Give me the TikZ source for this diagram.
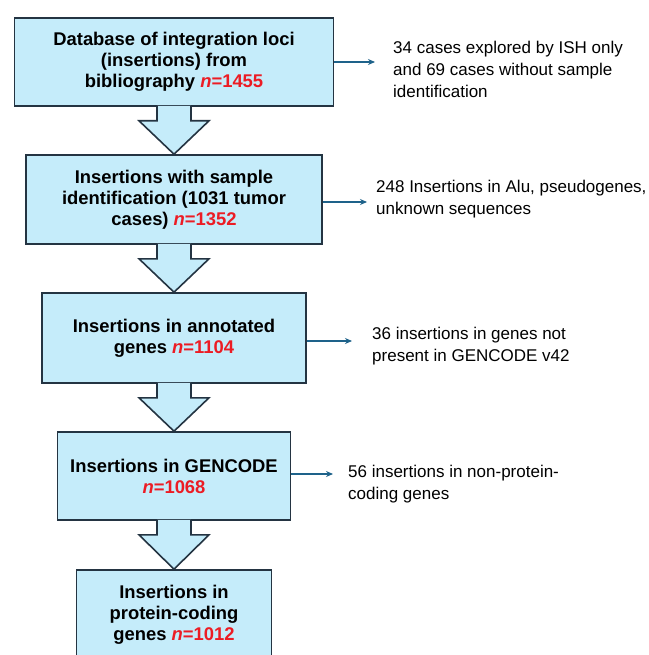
\documentclass[tikz,border=0pt]{standalone}
\usepackage{fontspec}
\setmainfont{Liberation Sans}
\usetikzlibrary{arrows.meta}
\definecolor{boxfill}{RGB}{197,236,250}
\definecolor{boxline}{RGB}{36,52,66}
\definecolor{sideline}{RGB}{30,98,138}
\definecolor{nred}{RGB}{236,28,36}
\newcommand{\nval}[1]{\textcolor{nred}{\textit{n}=#1}}
\tikzset{
  stagebox/.style={draw=boxline,fill=boxfill,line width=1.6pt,align=center,
    font=\fontsize{18.4}{21}\selectfont\bfseries,inner sep=0pt},
  note/.style={align=left,inner sep=0pt,anchor=west,font=\fontsize{17}{22}\selectfont},
  sidearrow/.style={draw=sideline,line width=1.4pt,-{Stealth[length=7pt,width=6pt]}}
}
\begin{document}
\begin{tikzpicture}[x=1pt,y=-1pt]
\useasboundingbox (0,0) rectangle (648,655);
\clip (0,0) rectangle (648,655);
\fill[white] (0,0) rectangle (648,655);
\node[stagebox,minimum width=319pt,minimum height=88pt] (b1) at (174,62)
  {Database of integration loci\\(insertions) from\\bibliography \nval{1455}};
\node[stagebox,minimum width=296pt,minimum height=89pt] (b2) at (174,199.5)
  {Insertions with sample\\identification (1031 tumor\\cases) \nval{1352}};
\node[stagebox,minimum width=264pt,minimum height=90pt] (b3) at (174,338)
  {Insertions in annotated\\genes \nval{1104}};
\node[stagebox,minimum width=233pt,minimum height=88pt] (b4) at (174,476)
  {Insertions in GENCODE\\\nval{1068}};
\node[stagebox,minimum width=195pt,minimum height=90pt] (b5) at (174,615)
  {Insertions in\\protein-coding\\genes \nval{1012}};
% block arrows between the stages
\foreach \a/\b in {b1/b2,b2/b3,b3/b4,b4/b5}{
  \filldraw[draw=boxline,fill=boxfill,line width=1.6pt,line join=miter]
    ([shift={(-17,-1)}]\a.south) -- ([shift={(-17,14)}]\a.south)
    -- ([shift={(-35,14)}]\a.south) -- (\b.north)
    -- ([shift={(35,14)}]\a.south) -- ([shift={(17,14)}]\a.south)
    -- ([shift={(17,-1)}]\a.south);
}
% excluded insertions
\node[note] (n1) at (393,69) {34 cases explored by ISH only\\and 69 cases without sample\\identification};
\node[note] (n2) at (376,199.5) {248 Insertions in Alu, pseudogenes,\\unknown sequences};
\node[note] (n3) at (372,346.5) {36 insertions in genes not\\present in GENCODE v42};
\node[note] (n4) at (348,484) {56 insertions in non-protein-\\coding genes};
\coordinate (e1) at (375,62);
\coordinate (e2) at (367,202);
\coordinate (e3) at (352,341);
\coordinate (e4) at (333,474);
\draw[sidearrow] (b1.east |- e1) -- (e1);
\draw[sidearrow] (b2.east |- e2) -- (e2);
\draw[sidearrow] (b3.east |- e3) -- (e3);
\draw[sidearrow] (b4.east |- e4) -- (e4);
\end{tikzpicture}
\end{document}
